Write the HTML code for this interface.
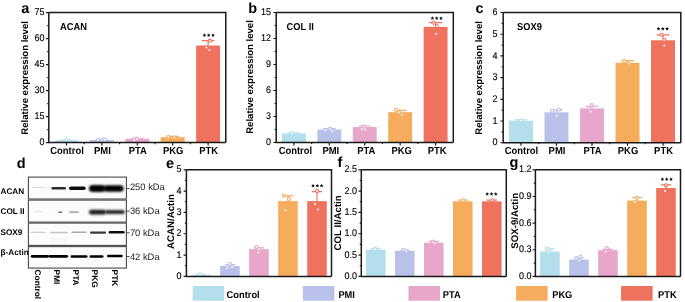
<!DOCTYPE html>
<html><head><meta charset="utf-8"><style>
html,body{margin:0;padding:0;background:#fff;}
body{width:685px;height:302px;overflow:hidden;font-family:"Liberation Sans", sans-serif;}
svg{display:block;text-rendering:geometricPrecision;will-change:transform;}
</style></head><body>
<svg width="685" height="302" viewBox="0 0 685 302" font-family='"Liberation Sans", sans-serif'>
<defs><filter id="b1" x="-20%" y="-100%" width="140%" height="300%"><feGaussianBlur stdDeviation="0.7"/></filter><filter id="b2" x="-20%" y="-100%" width="140%" height="300%"><feGaussianBlur stdDeviation="1.0"/></filter></defs>
<rect width="685" height="302" fill="#fff"/>
<rect x="54.55" y="140.35" width="23.89" height="2.25" fill="#b3deeb"/>
<rect x="89.95" y="140.00" width="23.89" height="2.60" fill="#b9c1eb"/>
<rect x="125.35" y="138.79" width="23.89" height="3.81" fill="#e7a6ca"/>
<rect x="160.75" y="137.23" width="23.89" height="5.37" fill="#f6ac5d"/>
<rect x="196.15" y="45.53" width="23.89" height="97.07" fill="#ef725e"/>
<path d="M66.50 140.35V140.00M60.17 140.00H72.83" stroke="#b3deeb" stroke-width="1.15" fill="none"/>
<circle cx="66.50" cy="139.83" r="1.55" fill="#fff" stroke="#b3deeb" stroke-width="1.1"/>
<path d="M101.90 140.00V139.48M95.57 139.48H108.23" stroke="#b9c1eb" stroke-width="1.15" fill="none"/>
<circle cx="97.80" cy="139.83" r="1.55" fill="#fff" stroke="#b9c1eb" stroke-width="1.1"/>
<circle cx="102.50" cy="139.48" r="1.55" fill="#fff" stroke="#b9c1eb" stroke-width="1.1"/>
<circle cx="104.80" cy="139.65" r="1.55" fill="#fff" stroke="#b9c1eb" stroke-width="1.1"/>
<path d="M137.30 138.79V138.27M130.97 138.27H143.63" stroke="#e7a6ca" stroke-width="1.15" fill="none"/>
<circle cx="136.80" cy="138.70" r="1.55" fill="#fff" stroke="#e7a6ca" stroke-width="1.1"/>
<circle cx="134.30" cy="140.00" r="1.55" fill="#fff" stroke="#e7a6ca" stroke-width="1.1"/>
<path d="M172.70 137.23V136.36M166.37 136.36H179.03" stroke="#f6ac5d" stroke-width="1.15" fill="none"/>
<circle cx="168.30" cy="137.05" r="1.55" fill="#fff" stroke="#f6ac5d" stroke-width="1.1"/>
<circle cx="174.40" cy="137.57" r="1.55" fill="#fff" stroke="#f6ac5d" stroke-width="1.1"/>
<path d="M208.10 45.53V40.68M201.77 40.68H214.43" stroke="#ef725e" stroke-width="1.15" fill="none"/>
<circle cx="209.90" cy="40.68" r="1.55" fill="#fff" stroke="#ef725e" stroke-width="1.1"/>
<circle cx="206.40" cy="47.44" r="1.55" fill="#fff" stroke="#ef725e" stroke-width="1.1"/>
<circle cx="209.40" cy="50.30" r="1.55" fill="#fff" stroke="#ef725e" stroke-width="1.1"/>
<path d="M48.80 12.60H225.80V142.60" stroke="#1a1a1a" stroke-width="1.50" fill="none"/>
<path d="M48.80 12.60V142.60H225.80" stroke="#1a1a1a" stroke-width="1.50" fill="none"/>
<path d="M46.00 142.60H48.80M46.00 116.60H48.80M46.00 90.60H48.80M46.00 64.60H48.80M46.00 38.60H48.80M46.00 12.60H48.80M47.20 129.60H48.80M47.20 103.60H48.80M47.20 77.60H48.80M47.20 51.60H48.80M47.20 25.60H48.80M66.50 142.60V145.60M84.20 142.60V144.20M101.90 142.60V145.60M119.60 142.60V144.20M137.30 142.60V145.60M155.00 142.60V144.20M172.70 142.60V145.60M190.40 142.60V144.20M208.10 142.60V145.60" stroke="#1a1a1a" stroke-width="1.15" fill="none"/>
<text x="0" y="0" transform="translate(44.50 145.20) scale(1 1.08)" font-size="9.0" font-weight="normal" text-anchor="end" fill="#000" stroke="#000" stroke-width="0.12">0</text>
<text x="0" y="0" transform="translate(44.50 119.20) scale(1 1.08)" font-size="9.0" font-weight="normal" text-anchor="end" fill="#000" stroke="#000" stroke-width="0.12">15</text>
<text x="0" y="0" transform="translate(44.50 93.20) scale(1 1.08)" font-size="9.0" font-weight="normal" text-anchor="end" fill="#000" stroke="#000" stroke-width="0.12">30</text>
<text x="0" y="0" transform="translate(44.50 67.20) scale(1 1.08)" font-size="9.0" font-weight="normal" text-anchor="end" fill="#000" stroke="#000" stroke-width="0.12">45</text>
<text x="0" y="0" transform="translate(44.50 41.20) scale(1 1.08)" font-size="9.0" font-weight="normal" text-anchor="end" fill="#000" stroke="#000" stroke-width="0.12">60</text>
<text x="0" y="0" transform="translate(44.50 15.20) scale(1 1.08)" font-size="9.0" font-weight="normal" text-anchor="end" fill="#000" stroke="#000" stroke-width="0.12">75</text>
<text x="0" y="0" transform="translate(60.00 29.90) scale(1 1.08)" font-size="9.3" font-weight="bold" text-anchor="start" fill="#000" >ACAN</text>
<text x="21.30" y="12.60" font-size="14.5" font-weight="bold" text-anchor="start" fill="#000" >a</text>
<text x="0" y="0" font-size="9.55" font-weight="bold" text-anchor="middle" transform="translate(28.00 77.90) rotate(-90)">Relative expression level</text>
<text x="0" y="0" transform="translate(67.00 154.30) scale(1 1.08)" font-size="9.45" font-weight="bold" text-anchor="middle" fill="#000" >Control</text>
<text x="0" y="0" transform="translate(102.40 154.30) scale(1 1.08)" font-size="9.45" font-weight="bold" text-anchor="middle" fill="#000" >PMI</text>
<text x="0" y="0" transform="translate(137.80 154.30) scale(1 1.08)" font-size="9.45" font-weight="bold" text-anchor="middle" fill="#000" >PTA</text>
<text x="0" y="0" transform="translate(173.20 154.30) scale(1 1.08)" font-size="9.45" font-weight="bold" text-anchor="middle" fill="#000" >PKG</text>
<text x="0" y="0" transform="translate(208.60 154.30) scale(1 1.08)" font-size="9.45" font-weight="bold" text-anchor="middle" fill="#000" >PTK</text>
<polygon points="204.40,33.25 204.96,34.48 206.30,34.63 205.30,35.54 205.58,36.87 204.40,36.20 203.22,36.87 203.50,35.54 202.50,34.63 203.84,34.48" fill="#111"/>
<polygon points="208.70,33.25 209.26,34.48 210.60,34.63 209.60,35.54 209.88,36.87 208.70,36.20 207.52,36.87 207.80,35.54 206.80,34.63 208.14,34.48" fill="#111"/>
<polygon points="213.00,33.25 213.56,34.48 214.90,34.63 213.90,35.54 214.18,36.87 213.00,36.20 211.82,36.87 212.10,35.54 211.10,34.63 212.44,34.48" fill="#111"/>
<rect x="281.96" y="133.40" width="23.91" height="9.10" fill="#b3deeb"/>
<rect x="317.38" y="129.50" width="23.91" height="13.00" fill="#b9c1eb"/>
<rect x="352.80" y="127.07" width="23.91" height="15.43" fill="#e7a6ca"/>
<rect x="388.22" y="112.17" width="23.91" height="30.33" fill="#f6ac5d"/>
<rect x="423.64" y="26.89" width="23.91" height="115.61" fill="#ef725e"/>
<path d="M293.91 133.40V132.71M287.57 132.71H300.25" stroke="#b3deeb" stroke-width="1.15" fill="none"/>
<circle cx="291.91" cy="133.14" r="1.55" fill="#fff" stroke="#b3deeb" stroke-width="1.1"/>
<path d="M329.33 129.50V128.46M322.99 128.46H335.67" stroke="#b9c1eb" stroke-width="1.15" fill="none"/>
<circle cx="325.43" cy="130.19" r="1.55" fill="#fff" stroke="#b9c1eb" stroke-width="1.1"/>
<circle cx="330.13" cy="128.63" r="1.55" fill="#fff" stroke="#b9c1eb" stroke-width="1.1"/>
<circle cx="332.23" cy="131.06" r="1.55" fill="#fff" stroke="#b9c1eb" stroke-width="1.1"/>
<path d="M364.75 127.07V126.03M358.41 126.03H371.09" stroke="#e7a6ca" stroke-width="1.15" fill="none"/>
<circle cx="363.85" cy="126.64" r="1.55" fill="#fff" stroke="#e7a6ca" stroke-width="1.1"/>
<circle cx="361.85" cy="128.63" r="1.55" fill="#fff" stroke="#e7a6ca" stroke-width="1.1"/>
<circle cx="364.95" cy="129.59" r="1.55" fill="#fff" stroke="#e7a6ca" stroke-width="1.1"/>
<path d="M400.17 112.17V110.43M393.83 110.43H406.51" stroke="#f6ac5d" stroke-width="1.15" fill="none"/>
<circle cx="396.17" cy="109.83" r="1.55" fill="#fff" stroke="#f6ac5d" stroke-width="1.1"/>
<circle cx="398.67" cy="112.34" r="1.55" fill="#fff" stroke="#f6ac5d" stroke-width="1.1"/>
<circle cx="401.67" cy="114.77" r="1.55" fill="#fff" stroke="#f6ac5d" stroke-width="1.1"/>
<path d="M435.59 26.89V22.55M429.25 22.55H441.93" stroke="#ef725e" stroke-width="1.15" fill="none"/>
<circle cx="433.49" cy="22.73" r="1.55" fill="#fff" stroke="#ef725e" stroke-width="1.1"/>
<circle cx="436.79" cy="26.11" r="1.55" fill="#fff" stroke="#ef725e" stroke-width="1.1"/>
<circle cx="436.29" cy="33.73" r="1.55" fill="#fff" stroke="#ef725e" stroke-width="1.1"/>
<path d="M276.20 12.50H453.30V142.50" stroke="#1a1a1a" stroke-width="1.50" fill="none"/>
<path d="M276.20 12.50V142.50H453.30" stroke="#1a1a1a" stroke-width="1.50" fill="none"/>
<path d="M273.40 142.50H276.20M273.40 116.50H276.20M273.40 90.50H276.20M273.40 64.50H276.20M273.40 38.50H276.20M273.40 12.50H276.20M274.60 129.50H276.20M274.60 103.50H276.20M274.60 77.50H276.20M274.60 51.50H276.20M274.60 25.50H276.20M293.91 142.50V145.50M311.62 142.50V144.10M329.33 142.50V145.50M347.04 142.50V144.10M364.75 142.50V145.50M382.46 142.50V144.10M400.17 142.50V145.50M417.88 142.50V144.10M435.59 142.50V145.50" stroke="#1a1a1a" stroke-width="1.15" fill="none"/>
<text x="0" y="0" transform="translate(271.00 145.10) scale(1 1.08)" font-size="9.0" font-weight="normal" text-anchor="end" fill="#000" stroke="#000" stroke-width="0.12">0</text>
<text x="0" y="0" transform="translate(271.00 119.10) scale(1 1.08)" font-size="9.0" font-weight="normal" text-anchor="end" fill="#000" stroke="#000" stroke-width="0.12">3</text>
<text x="0" y="0" transform="translate(271.00 93.10) scale(1 1.08)" font-size="9.0" font-weight="normal" text-anchor="end" fill="#000" stroke="#000" stroke-width="0.12">6</text>
<text x="0" y="0" transform="translate(271.00 67.10) scale(1 1.08)" font-size="9.0" font-weight="normal" text-anchor="end" fill="#000" stroke="#000" stroke-width="0.12">9</text>
<text x="0" y="0" transform="translate(271.00 41.10) scale(1 1.08)" font-size="9.0" font-weight="normal" text-anchor="end" fill="#000" stroke="#000" stroke-width="0.12">12</text>
<text x="0" y="0" transform="translate(271.00 15.10) scale(1 1.08)" font-size="9.0" font-weight="normal" text-anchor="end" fill="#000" stroke="#000" stroke-width="0.12">15</text>
<text x="0" y="0" transform="translate(286.60 29.80) scale(1 1.08)" font-size="9.3" font-weight="bold" text-anchor="start" fill="#000" >COL II</text>
<text x="248.30" y="12.90" font-size="14.5" font-weight="bold" text-anchor="start" fill="#000" >b</text>
<text x="0" y="0" font-size="9.55" font-weight="bold" text-anchor="middle" transform="translate(253.00 77.00) rotate(-90)">Relative expression level</text>
<text x="0" y="0" transform="translate(295.41 154.20) scale(1 1.08)" font-size="9.45" font-weight="bold" text-anchor="middle" fill="#000" >Control</text>
<text x="0" y="0" transform="translate(330.83 154.20) scale(1 1.08)" font-size="9.45" font-weight="bold" text-anchor="middle" fill="#000" >PMI</text>
<text x="0" y="0" transform="translate(366.25 154.20) scale(1 1.08)" font-size="9.45" font-weight="bold" text-anchor="middle" fill="#000" >PTA</text>
<text x="0" y="0" transform="translate(401.67 154.20) scale(1 1.08)" font-size="9.45" font-weight="bold" text-anchor="middle" fill="#000" >PKG</text>
<text x="0" y="0" transform="translate(437.09 154.20) scale(1 1.08)" font-size="9.45" font-weight="bold" text-anchor="middle" fill="#000" >PTK</text>
<polygon points="432.40,16.25 432.96,17.48 434.30,17.63 433.30,18.54 433.58,19.87 432.40,19.20 431.22,19.87 431.50,18.54 430.50,17.63 431.84,17.48" fill="#111"/>
<polygon points="436.70,16.25 437.26,17.48 438.60,17.63 437.60,18.54 437.88,19.87 436.70,19.20 435.52,19.87 435.80,18.54 434.80,17.63 436.14,17.48" fill="#111"/>
<polygon points="441.00,16.25 441.56,17.48 442.90,17.63 441.90,18.54 442.18,19.87 441.00,19.20 439.82,19.87 440.10,18.54 439.10,17.63 440.44,17.48" fill="#111"/>
<rect x="508.97" y="120.78" width="23.98" height="21.92" fill="#b3deeb"/>
<rect x="544.49" y="112.32" width="23.98" height="30.38" fill="#b9c1eb"/>
<rect x="580.01" y="108.41" width="23.98" height="34.29" fill="#e7a6ca"/>
<rect x="615.53" y="62.84" width="23.98" height="79.86" fill="#f6ac5d"/>
<rect x="651.05" y="40.28" width="23.98" height="102.42" fill="#ef725e"/>
<path d="M520.96 120.78V119.91M514.61 119.91H527.31" stroke="#b3deeb" stroke-width="1.15" fill="none"/>
<circle cx="520.96" cy="120.35" r="1.55" fill="#fff" stroke="#b3deeb" stroke-width="1.1"/>
<path d="M556.48 112.32V110.15M550.13 110.15H562.83" stroke="#b9c1eb" stroke-width="1.15" fill="none"/>
<circle cx="552.08" cy="110.80" r="1.55" fill="#fff" stroke="#b9c1eb" stroke-width="1.1"/>
<circle cx="559.08" cy="109.61" r="1.55" fill="#fff" stroke="#b9c1eb" stroke-width="1.1"/>
<circle cx="556.58" cy="115.79" r="1.55" fill="#fff" stroke="#b9c1eb" stroke-width="1.1"/>
<path d="M592.00 108.41V106.24M585.65 106.24H598.35" stroke="#e7a6ca" stroke-width="1.15" fill="none"/>
<circle cx="591.80" cy="105.16" r="1.55" fill="#fff" stroke="#e7a6ca" stroke-width="1.1"/>
<circle cx="589.30" cy="108.31" r="1.55" fill="#fff" stroke="#e7a6ca" stroke-width="1.1"/>
<circle cx="590.60" cy="111.45" r="1.55" fill="#fff" stroke="#e7a6ca" stroke-width="1.1"/>
<path d="M627.52 62.84V60.67M621.17 60.67H633.87" stroke="#f6ac5d" stroke-width="1.15" fill="none"/>
<circle cx="624.12" cy="61.11" r="1.55" fill="#fff" stroke="#f6ac5d" stroke-width="1.1"/>
<circle cx="629.02" cy="63.50" r="1.55" fill="#fff" stroke="#f6ac5d" stroke-width="1.1"/>
<path d="M663.04 40.28V34.85M656.69 34.85H669.39" stroke="#ef725e" stroke-width="1.15" fill="none"/>
<circle cx="661.64" cy="34.85" r="1.55" fill="#fff" stroke="#ef725e" stroke-width="1.1"/>
<circle cx="664.24" cy="39.84" r="1.55" fill="#fff" stroke="#ef725e" stroke-width="1.1"/>
<circle cx="664.24" cy="45.48" r="1.55" fill="#fff" stroke="#ef725e" stroke-width="1.1"/>
<path d="M503.20 12.50H680.80V142.70" stroke="#1a1a1a" stroke-width="1.50" fill="none"/>
<path d="M503.20 12.50V142.70H680.80" stroke="#1a1a1a" stroke-width="1.50" fill="none"/>
<path d="M500.40 142.70H503.20M500.40 121.00H503.20M500.40 99.30H503.20M500.40 77.60H503.20M500.40 55.90H503.20M500.40 34.20H503.20M500.40 12.50H503.20M501.60 131.85H503.20M501.60 110.15H503.20M501.60 88.45H503.20M501.60 66.75H503.20M501.60 45.05H503.20M501.60 23.35H503.20M520.96 142.70V145.70M538.72 142.70V144.30M556.48 142.70V145.70M574.24 142.70V144.30M592.00 142.70V145.70M609.76 142.70V144.30M627.52 142.70V145.70M645.28 142.70V144.30M663.04 142.70V145.70" stroke="#1a1a1a" stroke-width="1.15" fill="none"/>
<text x="0" y="0" transform="translate(497.60 145.30) scale(1 1.08)" font-size="9.0" font-weight="normal" text-anchor="end" fill="#000" stroke="#000" stroke-width="0.12">0</text>
<text x="0" y="0" transform="translate(497.60 123.60) scale(1 1.08)" font-size="9.0" font-weight="normal" text-anchor="end" fill="#000" stroke="#000" stroke-width="0.12">1</text>
<text x="0" y="0" transform="translate(497.60 101.90) scale(1 1.08)" font-size="9.0" font-weight="normal" text-anchor="end" fill="#000" stroke="#000" stroke-width="0.12">2</text>
<text x="0" y="0" transform="translate(497.60 80.20) scale(1 1.08)" font-size="9.0" font-weight="normal" text-anchor="end" fill="#000" stroke="#000" stroke-width="0.12">3</text>
<text x="0" y="0" transform="translate(497.60 58.50) scale(1 1.08)" font-size="9.0" font-weight="normal" text-anchor="end" fill="#000" stroke="#000" stroke-width="0.12">4</text>
<text x="0" y="0" transform="translate(497.60 36.80) scale(1 1.08)" font-size="9.0" font-weight="normal" text-anchor="end" fill="#000" stroke="#000" stroke-width="0.12">5</text>
<text x="0" y="0" transform="translate(497.60 15.10) scale(1 1.08)" font-size="9.0" font-weight="normal" text-anchor="end" fill="#000" stroke="#000" stroke-width="0.12">6</text>
<text x="0" y="0" transform="translate(517.00 29.80) scale(1 1.08)" font-size="9.3" font-weight="bold" text-anchor="start" fill="#000" >SOX9</text>
<text x="475.50" y="12.90" font-size="14.5" font-weight="bold" text-anchor="start" fill="#000" >c</text>
<text x="0" y="0" font-size="9.55" font-weight="bold" text-anchor="middle" transform="translate(482.00 77.90) rotate(-90)">Relative expression level</text>
<text x="0" y="0" transform="translate(521.46 154.40) scale(1 1.08)" font-size="9.45" font-weight="bold" text-anchor="middle" fill="#000" >Control</text>
<text x="0" y="0" transform="translate(556.98 154.40) scale(1 1.08)" font-size="9.45" font-weight="bold" text-anchor="middle" fill="#000" >PMI</text>
<text x="0" y="0" transform="translate(592.50 154.40) scale(1 1.08)" font-size="9.45" font-weight="bold" text-anchor="middle" fill="#000" >PTA</text>
<text x="0" y="0" transform="translate(628.02 154.40) scale(1 1.08)" font-size="9.45" font-weight="bold" text-anchor="middle" fill="#000" >PKG</text>
<text x="0" y="0" transform="translate(663.54 154.40) scale(1 1.08)" font-size="9.45" font-weight="bold" text-anchor="middle" fill="#000" >PTK</text>
<polygon points="658.50,26.85 659.06,28.08 660.40,28.23 659.40,29.14 659.68,30.47 658.50,29.80 657.32,30.47 657.60,29.14 656.60,28.23 657.94,28.08" fill="#111"/>
<polygon points="662.80,26.85 663.36,28.08 664.70,28.23 663.70,29.14 663.98,30.47 662.80,29.80 661.62,30.47 661.90,29.14 660.90,28.23 662.24,28.08" fill="#111"/>
<polygon points="667.10,26.85 667.66,28.08 669.00,28.23 668.00,29.14 668.28,30.47 667.10,29.80 665.92,30.47 666.20,29.14 665.20,28.23 666.54,28.08" fill="#111"/>
<rect x="191.12" y="274.91" width="19.59" height="1.49" fill="#b3deeb"/>
<rect x="220.14" y="265.95" width="19.59" height="10.45" fill="#b9c1eb"/>
<rect x="249.16" y="249.11" width="19.59" height="27.29" fill="#e7a6ca"/>
<rect x="278.18" y="201.14" width="19.59" height="75.26" fill="#f6ac5d"/>
<rect x="307.20" y="201.14" width="19.59" height="75.26" fill="#ef725e"/>
<path d="M200.91 274.91V274.27M195.72 274.27H206.10" stroke="#b3deeb" stroke-width="1.15" fill="none"/>
<circle cx="199.91" cy="274.27" r="1.55" fill="#fff" stroke="#b3deeb" stroke-width="1.1"/>
<path d="M229.93 265.95V264.67M224.74 264.67H235.12" stroke="#b9c1eb" stroke-width="1.15" fill="none"/>
<circle cx="230.13" cy="263.82" r="1.55" fill="#fff" stroke="#b9c1eb" stroke-width="1.1"/>
<circle cx="227.03" cy="268.30" r="1.55" fill="#fff" stroke="#b9c1eb" stroke-width="1.1"/>
<circle cx="232.03" cy="267.02" r="1.55" fill="#fff" stroke="#b9c1eb" stroke-width="1.1"/>
<path d="M258.95 249.11V247.83M253.76 247.83H264.14" stroke="#e7a6ca" stroke-width="1.15" fill="none"/>
<circle cx="256.55" cy="246.98" r="1.55" fill="#fff" stroke="#e7a6ca" stroke-width="1.1"/>
<circle cx="258.35" cy="252.52" r="1.55" fill="#fff" stroke="#e7a6ca" stroke-width="1.1"/>
<circle cx="258.95" cy="249.32" r="1.55" fill="#fff" stroke="#e7a6ca" stroke-width="1.1"/>
<path d="M287.97 201.14V195.81M282.78 195.81H293.16" stroke="#f6ac5d" stroke-width="1.15" fill="none"/>
<circle cx="283.67" cy="195.60" r="1.55" fill="#fff" stroke="#f6ac5d" stroke-width="1.1"/>
<circle cx="288.97" cy="199.01" r="1.55" fill="#fff" stroke="#f6ac5d" stroke-width="1.1"/>
<circle cx="285.47" cy="210.31" r="1.55" fill="#fff" stroke="#f6ac5d" stroke-width="1.1"/>
<path d="M316.99 201.14V191.55M311.80 191.55H322.18" stroke="#ef725e" stroke-width="1.15" fill="none"/>
<circle cx="317.29" cy="191.12" r="1.55" fill="#fff" stroke="#ef725e" stroke-width="1.1"/>
<circle cx="314.99" cy="203.91" r="1.55" fill="#fff" stroke="#ef725e" stroke-width="1.1"/>
<circle cx="317.89" cy="209.46" r="1.55" fill="#fff" stroke="#ef725e" stroke-width="1.1"/>
<path d="M186.40 169.80H331.50V276.40" stroke="#1a1a1a" stroke-width="1.50" fill="none"/>
<path d="M186.40 169.80V276.40H331.50" stroke="#1a1a1a" stroke-width="1.50" fill="none"/>
<path d="M183.60 276.40H186.40M183.60 255.08H186.40M183.60 233.76H186.40M183.60 212.44H186.40M183.60 191.12H186.40M183.60 169.80H186.40M184.80 265.74H186.40M184.80 244.42H186.40M184.80 223.10H186.40M184.80 201.78H186.40M184.80 180.46H186.40" stroke="#1a1a1a" stroke-width="1.15" fill="none"/>
<text x="0" y="0" transform="translate(181.40 279.00) scale(1 1.08)" font-size="9.0" font-weight="normal" text-anchor="end" fill="#000" stroke="#000" stroke-width="0.12">0</text>
<text x="0" y="0" transform="translate(181.40 257.68) scale(1 1.08)" font-size="9.0" font-weight="normal" text-anchor="end" fill="#000" stroke="#000" stroke-width="0.12">1</text>
<text x="0" y="0" transform="translate(181.40 236.36) scale(1 1.08)" font-size="9.0" font-weight="normal" text-anchor="end" fill="#000" stroke="#000" stroke-width="0.12">2</text>
<text x="0" y="0" transform="translate(181.40 215.04) scale(1 1.08)" font-size="9.0" font-weight="normal" text-anchor="end" fill="#000" stroke="#000" stroke-width="0.12">3</text>
<text x="0" y="0" transform="translate(181.40 193.72) scale(1 1.08)" font-size="9.0" font-weight="normal" text-anchor="end" fill="#000" stroke="#000" stroke-width="0.12">4</text>
<text x="0" y="0" transform="translate(181.40 172.40) scale(1 1.08)" font-size="9.0" font-weight="normal" text-anchor="end" fill="#000" stroke="#000" stroke-width="0.12">5</text>
<text x="166.00" y="167.50" font-size="14.5" font-weight="bold" text-anchor="start" fill="#000" >e</text>
<text x="0" y="0" font-size="9.7" font-weight="bold" text-anchor="middle" transform="translate(173.60 221.50) rotate(-90)">ACAN/Actin</text>
<polygon points="313.00,183.75 313.56,184.98 314.90,185.13 313.90,186.04 314.18,187.37 313.00,186.70 311.82,187.37 312.10,186.04 311.10,185.13 312.44,184.98" fill="#111"/>
<polygon points="317.30,183.75 317.86,184.98 319.20,185.13 318.20,186.04 318.48,187.37 317.30,186.70 316.12,187.37 316.40,186.04 315.40,185.13 316.74,184.98" fill="#111"/>
<polygon points="321.60,183.75 322.16,184.98 323.50,185.13 322.50,186.04 322.78,187.37 321.60,186.70 320.42,187.37 320.70,186.04 319.70,185.13 321.04,184.98" fill="#111"/>
<rect x="366.01" y="249.75" width="19.58" height="26.65" fill="#b3deeb"/>
<rect x="395.01" y="250.82" width="19.58" height="25.58" fill="#b9c1eb"/>
<rect x="424.01" y="242.71" width="19.58" height="33.69" fill="#e7a6ca"/>
<rect x="453.01" y="201.35" width="19.58" height="75.05" fill="#f6ac5d"/>
<rect x="482.01" y="201.35" width="19.58" height="75.05" fill="#ef725e"/>
<path d="M375.80 249.75V248.90M370.61 248.90H380.99" stroke="#b3deeb" stroke-width="1.15" fill="none"/>
<circle cx="375.30" cy="248.90" r="1.55" fill="#fff" stroke="#b3deeb" stroke-width="1.1"/>
<path d="M404.80 250.82V249.96M399.61 249.96H409.99" stroke="#b9c1eb" stroke-width="1.15" fill="none"/>
<circle cx="403.80" cy="249.75" r="1.55" fill="#fff" stroke="#b9c1eb" stroke-width="1.1"/>
<circle cx="406.30" cy="251.24" r="1.55" fill="#fff" stroke="#b9c1eb" stroke-width="1.1"/>
<path d="M433.80 242.71V241.44M428.61 241.44H438.99" stroke="#e7a6ca" stroke-width="1.15" fill="none"/>
<circle cx="432.80" cy="241.65" r="1.55" fill="#fff" stroke="#e7a6ca" stroke-width="1.1"/>
<circle cx="434.80" cy="243.57" r="1.55" fill="#fff" stroke="#e7a6ca" stroke-width="1.1"/>
<path d="M462.80 201.35V200.07M457.61 200.07H467.99" stroke="#f6ac5d" stroke-width="1.15" fill="none"/>
<circle cx="462.80" cy="200.29" r="1.55" fill="#fff" stroke="#f6ac5d" stroke-width="1.1"/>
<path d="M491.80 201.35V200.07M486.61 200.07H496.99" stroke="#ef725e" stroke-width="1.15" fill="none"/>
<circle cx="492.30" cy="200.29" r="1.55" fill="#fff" stroke="#ef725e" stroke-width="1.1"/>
<path d="M361.30 169.80H506.30V276.40" stroke="#1a1a1a" stroke-width="1.50" fill="none"/>
<path d="M361.30 169.80V276.40H506.30" stroke="#1a1a1a" stroke-width="1.50" fill="none"/>
<path d="M358.50 276.40H361.30M358.50 255.08H361.30M358.50 233.76H361.30M358.50 212.44H361.30M358.50 191.12H361.30M358.50 169.80H361.30M359.70 265.74H361.30M359.70 244.42H361.30M359.70 223.10H361.30M359.70 201.78H361.30M359.70 180.46H361.30" stroke="#1a1a1a" stroke-width="1.15" fill="none"/>
<text x="0" y="0" transform="translate(357.10 279.00) scale(1 1.08)" font-size="9.0" font-weight="normal" text-anchor="end" fill="#000" stroke="#000" stroke-width="0.12">0.0</text>
<text x="0" y="0" transform="translate(357.10 257.68) scale(1 1.08)" font-size="9.0" font-weight="normal" text-anchor="end" fill="#000" stroke="#000" stroke-width="0.12">0.5</text>
<text x="0" y="0" transform="translate(357.10 236.36) scale(1 1.08)" font-size="9.0" font-weight="normal" text-anchor="end" fill="#000" stroke="#000" stroke-width="0.12">1.0</text>
<text x="0" y="0" transform="translate(357.10 215.04) scale(1 1.08)" font-size="9.0" font-weight="normal" text-anchor="end" fill="#000" stroke="#000" stroke-width="0.12">1.5</text>
<text x="0" y="0" transform="translate(357.10 193.72) scale(1 1.08)" font-size="9.0" font-weight="normal" text-anchor="end" fill="#000" stroke="#000" stroke-width="0.12">2.0</text>
<text x="0" y="0" transform="translate(357.10 172.40) scale(1 1.08)" font-size="9.0" font-weight="normal" text-anchor="end" fill="#000" stroke="#000" stroke-width="0.12">2.5</text>
<text x="337.50" y="166.80" font-size="14.5" font-weight="bold" text-anchor="start" fill="#000" >f</text>
<text x="0" y="0" font-size="9.7" font-weight="bold" text-anchor="middle" transform="translate(341.20 222.90) rotate(-90)">COL II/Actin</text>
<polygon points="487.20,192.00 487.76,193.23 489.10,193.38 488.10,194.29 488.38,195.62 487.20,194.95 486.02,195.62 486.30,194.29 485.30,193.38 486.64,193.23" fill="#111"/>
<polygon points="491.50,192.00 492.06,193.23 493.40,193.38 492.40,194.29 492.68,195.62 491.50,194.95 490.32,195.62 490.60,194.29 489.60,193.38 490.94,193.23" fill="#111"/>
<polygon points="495.80,192.00 496.36,193.23 497.70,193.38 496.70,194.29 496.98,195.62 495.80,194.95 494.62,195.62 494.90,194.29 493.90,193.38 495.24,193.23" fill="#111"/>
<rect x="540.12" y="251.53" width="19.59" height="24.87" fill="#b3deeb"/>
<rect x="569.14" y="259.52" width="19.59" height="16.88" fill="#b9c1eb"/>
<rect x="598.16" y="250.19" width="19.59" height="26.21" fill="#e7a6ca"/>
<rect x="627.18" y="200.63" width="19.59" height="75.77" fill="#f6ac5d"/>
<rect x="656.20" y="188.01" width="19.59" height="88.39" fill="#ef725e"/>
<path d="M549.91 251.53V248.86M544.72 248.86H555.10" stroke="#b3deeb" stroke-width="1.15" fill="none"/>
<circle cx="547.01" cy="248.60" r="1.55" fill="#fff" stroke="#b3deeb" stroke-width="1.1"/>
<circle cx="548.81" cy="249.57" r="1.55" fill="#fff" stroke="#b3deeb" stroke-width="1.1"/>
<circle cx="548.51" cy="252.33" r="1.55" fill="#fff" stroke="#b3deeb" stroke-width="1.1"/>
<path d="M578.93 259.52V257.75M573.74 257.75H584.12" stroke="#b9c1eb" stroke-width="1.15" fill="none"/>
<circle cx="580.53" cy="256.86" r="1.55" fill="#fff" stroke="#b9c1eb" stroke-width="1.1"/>
<circle cx="576.33" cy="258.01" r="1.55" fill="#fff" stroke="#b9c1eb" stroke-width="1.1"/>
<circle cx="579.33" cy="260.41" r="1.55" fill="#fff" stroke="#b9c1eb" stroke-width="1.1"/>
<path d="M607.95 250.19V249.31M602.76 249.31H613.14" stroke="#e7a6ca" stroke-width="1.15" fill="none"/>
<circle cx="606.95" cy="248.15" r="1.55" fill="#fff" stroke="#e7a6ca" stroke-width="1.1"/>
<circle cx="605.75" cy="251.44" r="1.55" fill="#fff" stroke="#e7a6ca" stroke-width="1.1"/>
<path d="M636.97 200.63V197.52M631.78 197.52H642.16" stroke="#f6ac5d" stroke-width="1.15" fill="none"/>
<circle cx="636.97" cy="197.78" r="1.55" fill="#fff" stroke="#f6ac5d" stroke-width="1.1"/>
<circle cx="634.97" cy="201.78" r="1.55" fill="#fff" stroke="#f6ac5d" stroke-width="1.1"/>
<path d="M665.99 188.01V184.90M660.80 184.90H671.18" stroke="#ef725e" stroke-width="1.15" fill="none"/>
<circle cx="665.99" cy="185.35" r="1.55" fill="#fff" stroke="#ef725e" stroke-width="1.1"/>
<circle cx="664.99" cy="191.12" r="1.55" fill="#fff" stroke="#ef725e" stroke-width="1.1"/>
<path d="M535.40 169.80H680.50V276.40" stroke="#1a1a1a" stroke-width="1.50" fill="none"/>
<path d="M535.40 169.80V276.40H680.50" stroke="#1a1a1a" stroke-width="1.50" fill="none"/>
<path d="M532.60 276.40H535.40M532.60 249.75H535.40M532.60 223.10H535.40M532.60 196.45H535.40M532.60 169.80H535.40M533.80 263.07H535.40M533.80 236.42H535.40M533.80 209.78H535.40M533.80 183.12H535.40" stroke="#1a1a1a" stroke-width="1.15" fill="none"/>
<text x="0" y="0" transform="translate(531.40 279.00) scale(1 1.08)" font-size="9.0" font-weight="normal" text-anchor="end" fill="#000" stroke="#000" stroke-width="0.12">0.0</text>
<text x="0" y="0" transform="translate(531.40 252.35) scale(1 1.08)" font-size="9.0" font-weight="normal" text-anchor="end" fill="#000" stroke="#000" stroke-width="0.12">0.3</text>
<text x="0" y="0" transform="translate(531.40 225.70) scale(1 1.08)" font-size="9.0" font-weight="normal" text-anchor="end" fill="#000" stroke="#000" stroke-width="0.12">0.6</text>
<text x="0" y="0" transform="translate(531.40 199.05) scale(1 1.08)" font-size="9.0" font-weight="normal" text-anchor="end" fill="#000" stroke="#000" stroke-width="0.12">0.9</text>
<text x="0" y="0" transform="translate(531.40 172.40) scale(1 1.08)" font-size="9.0" font-weight="normal" text-anchor="end" fill="#000" stroke="#000" stroke-width="0.12">1.2</text>
<text x="509.50" y="167.10" font-size="14.5" font-weight="bold" text-anchor="start" fill="#000" >g</text>
<text x="0" y="0" font-size="9.7" font-weight="bold" text-anchor="middle" transform="translate(517.60 220.80) rotate(-90)">SOX-9/Actin</text>
<polygon points="662.40,177.25 662.96,178.48 664.30,178.63 663.30,179.54 663.58,180.87 662.40,180.20 661.22,180.87 661.50,179.54 660.50,178.63 661.84,178.48" fill="#111"/>
<polygon points="666.70,177.25 667.26,178.48 668.60,178.63 667.60,179.54 667.88,180.87 666.70,180.20 665.52,180.87 665.80,179.54 664.80,178.63 666.14,178.48" fill="#111"/>
<polygon points="671.00,177.25 671.56,178.48 672.90,178.63 671.90,179.54 672.18,180.87 671.00,180.20 669.82,180.87 670.10,179.54 669.10,178.63 670.44,178.48" fill="#111"/>
<text x="16.80" y="167.60" font-size="14.5" font-weight="bold" text-anchor="start" fill="#000" >d</text>
<rect x="28.4" y="177.10" width="98.0" height="21.90" fill="#fcfcfc" stroke="#4a4a4a" stroke-width="1.1"/>
<rect x="28.4" y="200.10" width="98.0" height="22.00" fill="#fcfcfc" stroke="#4a4a4a" stroke-width="1.1"/>
<rect x="28.4" y="223.10" width="98.0" height="22.30" fill="#fcfcfc" stroke="#4a4a4a" stroke-width="1.1"/>
<rect x="28.4" y="246.60" width="98.0" height="21.50" fill="#fcfcfc" stroke="#4a4a4a" stroke-width="1.1"/>
<text x="0.50" y="193.80" font-size="8.2" font-weight="bold" text-anchor="start" fill="#000" >ACAN</text>
<text x="0.50" y="214.20" font-size="8.2" font-weight="bold" text-anchor="start" fill="#000" >COL II</text>
<text x="0.50" y="234.90" font-size="8.2" font-weight="bold" text-anchor="start" fill="#000" >SOX9</text>
<text x="0.50" y="255.00" font-size="8.2" font-weight="bold" text-anchor="start" fill="#000" >β-Actin</text>
<path d="M126.6 188.50H129.6" stroke="#333" stroke-width="0.9"/>
<text x="129.90" y="190.40" font-size="9.4" font-weight="normal" text-anchor="start" fill="#222" >250 kDa</text>
<path d="M126.6 211.20H129.6" stroke="#333" stroke-width="0.9"/>
<text x="129.90" y="214.30" font-size="9.4" font-weight="normal" text-anchor="start" fill="#222" >36 kDa</text>
<path d="M126.6 232.80H129.6" stroke="#333" stroke-width="0.9"/>
<text x="129.90" y="235.80" font-size="9.4" font-weight="normal" text-anchor="start" fill="#222" >70 kDa</text>
<path d="M126.6 256.50H129.6" stroke="#333" stroke-width="0.9"/>
<text x="129.90" y="259.50" font-size="9.4" font-weight="normal" text-anchor="start" fill="#222" >42 kDa</text>
<defs><filter id="g5" x="-30%" y="-200%" width="160%" height="500%"><feGaussianBlur stdDeviation="0.5"/></filter><filter id="g6" x="-30%" y="-200%" width="160%" height="500%"><feGaussianBlur stdDeviation="0.6"/></filter><filter id="g7" x="-30%" y="-200%" width="160%" height="500%"><feGaussianBlur stdDeviation="0.7"/></filter><filter id="g8" x="-30%" y="-200%" width="160%" height="500%"><feGaussianBlur stdDeviation="0.8"/></filter><filter id="g9" x="-30%" y="-200%" width="160%" height="500%"><feGaussianBlur stdDeviation="0.9"/></filter></defs>
<rect x="32" y="186.95" width="14.00" height="1.1" rx="0.55" fill="#dedede" filter="url(#g6)"/>
<rect x="51.5" y="187.00" width="14.50" height="2.4" rx="1.20" fill="#2a2a2a" filter="url(#g7)"/>
<rect x="69" y="186.60" width="16.70" height="3.4" rx="1.70" fill="#111" filter="url(#g7)"/>
<rect x="89" y="184.90" width="16.50" height="7.0" rx="3.50" fill="#000" filter="url(#g8)"/>
<rect x="103.8" y="185.20" width="19.80" height="6.6" rx="3.30" fill="#000" filter="url(#g8)"/>
<rect x="35" y="211.00" width="7.00" height="1.2" rx="0.60" fill="#e2e2e2" filter="url(#g6)"/>
<rect x="58.3" y="211.60" width="4.00" height="1.4" rx="0.70" fill="#666" filter="url(#g5)"/>
<rect x="69" y="211.30" width="10.00" height="1.6" rx="0.80" fill="#aaa" filter="url(#g6)"/>
<rect x="89" y="209.80" width="17.00" height="4.8" rx="2.40" fill="#1a1a1a" filter="url(#g9)"/>
<rect x="105" y="209.90" width="20.00" height="4.2" rx="2.10" fill="#2a2a2a" filter="url(#g9)"/>
<rect x="30.5" y="231.70" width="15.50" height="1.4" rx="0.70" fill="#cfcfcf" filter="url(#g6)"/>
<rect x="50" y="231.65" width="17.80" height="1.5" rx="0.75" fill="#c2c2c2" filter="url(#g6)"/>
<rect x="71.4" y="231.55" width="15.40" height="1.5" rx="0.75" fill="#aaa" filter="url(#g6)"/>
<rect x="90" y="231.60" width="16.10" height="2.2" rx="1.10" fill="#3a3a3a" filter="url(#g6)"/>
<rect x="108.7" y="230.90" width="16.00" height="2.6" rx="1.30" fill="#111" filter="url(#g6)"/>
<rect x="30.8" y="254.90" width="18.10" height="2.8" rx="1.40" fill="#000" filter="url(#g7)"/>
<rect x="48.5" y="254.90" width="19.60" height="2.8" rx="1.40" fill="#000" filter="url(#g7)"/>
<rect x="70.5" y="255.15" width="17.00" height="2.5" rx="1.25" fill="#000" filter="url(#g7)"/>
<rect x="89.5" y="255.25" width="14.00" height="2.5" rx="1.25" fill="#000" filter="url(#g7)"/>
<rect x="107" y="254.65" width="15.80" height="2.7" rx="1.35" fill="#000" filter="url(#g7)"/>
<rect x="50" y="237" width="16" height="6" fill="#f7f7f7" filter="url(#g7)" opacity="0.7"/>
<text x="0" y="0" font-size="8.3" font-weight="bold" transform="translate(34.90 269.6) rotate(90)">Control</text>
<text x="0" y="0" font-size="8.3" font-weight="bold" transform="translate(53.80 269.6) rotate(90)">PMI</text>
<text x="0" y="0" font-size="8.3" font-weight="bold" transform="translate(73.00 269.6) rotate(90)">PTA</text>
<text x="0" y="0" font-size="8.3" font-weight="bold" transform="translate(92.00 269.6) rotate(90)">PKG</text>
<text x="0" y="0" font-size="8.3" font-weight="bold" transform="translate(111.50 269.6) rotate(90)">PTK</text>
<rect x="192.70" y="286.0" width="31.5" height="14.7" fill="#b3deeb"/>
<text x="0" y="0" transform="translate(226.60 297.90) scale(1 1.06)" font-size="9.3" font-weight="bold" text-anchor="start" fill="#000" >Control</text>
<rect x="302.90" y="286.0" width="31.5" height="14.7" fill="#b9c1eb"/>
<text x="0" y="0" transform="translate(338.40 297.90) scale(1 1.06)" font-size="9.3" font-weight="bold" text-anchor="start" fill="#000" >PMI</text>
<rect x="408.50" y="286.0" width="31.5" height="14.7" fill="#e7a6ca"/>
<text x="0" y="0" transform="translate(442.80 297.90) scale(1 1.06)" font-size="9.3" font-weight="bold" text-anchor="start" fill="#000" >PTA</text>
<rect x="516.10" y="286.0" width="31.5" height="14.7" fill="#f6ac5d"/>
<text x="0" y="0" transform="translate(552.20 297.90) scale(1 1.06)" font-size="9.3" font-weight="bold" text-anchor="start" fill="#000" >PKG</text>
<rect x="621.10" y="286.0" width="31.5" height="14.7" fill="#ef725e"/>
<text x="0" y="0" transform="translate(658.00 297.90) scale(1 1.06)" font-size="9.3" font-weight="bold" text-anchor="start" fill="#000" >PTK</text>
</svg>
</body></html>
